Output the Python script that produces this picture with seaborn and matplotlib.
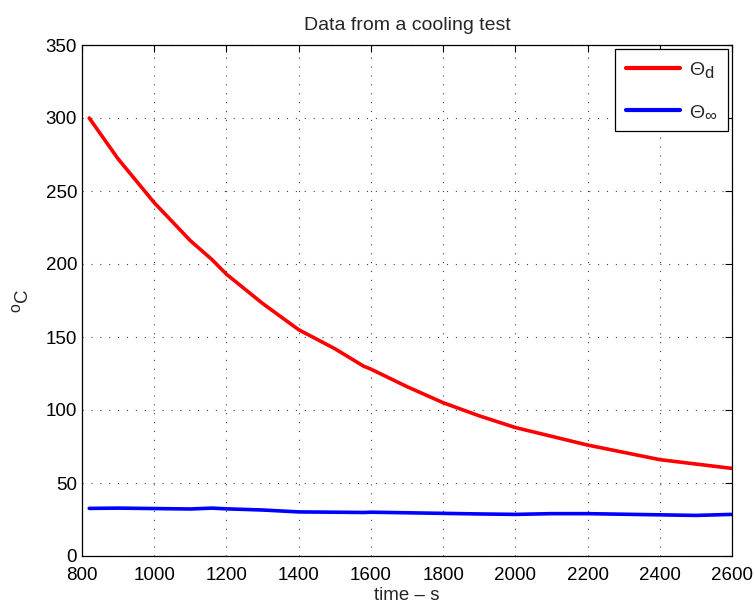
import numpy as np
import pandas as pd
import matplotlib
matplotlib.use("Agg")
import matplotlib.pyplot as plt
import matplotlib._mathtext as _mt
import seaborn as sns

time_s = [820, 900, 1000, 1100, 1160, 1200, 1300, 1400, 1500, 1580, 1600,
          1700, 1800, 1900, 2000, 2100, 2200, 2300, 2400, 2500, 2600]
theta_d = [300, 272, 242, 216, 203, 193, 173, 155, 142, 130, 128,
           116, 105, 96, 88, 82, 76, 71, 66, 63, 60]
theta_inf = [32.6, 32.8, 32.5, 32.2, 32.8, 32.3, 31.5, 30.2, 30.0, 29.8, 30.0,
             29.6, 29.2, 28.8, 28.5, 29.0, 29.0, 28.6, 28.2, 27.8, 28.5]
series_labels = [r"$\Theta_\mathrm{d}$", r"$\Theta_\infty$"]
series_colors = ["#ff0000", "#0000ff"]
x_ticks = [800, 1000, 1200, 1400, 1600, 1800, 2000, 2200, 2400, 2600]
y_ticks = [0, 50, 100, 150, 200, 250, 300, 350]

df = pd.DataFrame({
    "time": time_s * 2,
    "value": theta_d + theta_inf,
    "series": [series_labels[0]] * len(time_s) + [series_labels[1]] * len(time_s),
})

sns.set_style("white")
plt.rcParams['font.family'] = ['Liberation Sans', 'DejaVu Sans']
plt.rcParams['mathtext.fontset'] = 'custom'
plt.rcParams['mathtext.rm'] = 'Liberation Sans'
plt.rcParams['mathtext.it'] = 'Liberation Sans'
plt.rcParams['mathtext.bf'] = 'Liberation Sans:bold'
# MATLAB-like larger subscripts
_mt.SHRINK_FACTOR = 0.85

fig = plt.figure(figsize=(7.55, 6.07), dpi=100)
ax = fig.add_axes([82/755, 1 - 556/607, 650/755, 511/607])

sns.lineplot(data=df, x="time", y="value", hue="series",
             palette=dict(zip(series_labels, series_colors)),
             linewidth=2.6, ax=ax, sort=False)

ax.set_xlim(800, 2600)
ax.set_ylim(0, 350)
ax.set_xticks(x_ticks)
ax.set_yticks(y_ticks)
ax.tick_params(direction="in", length=5, width=0.8, top=True, right=True,
               labelsize=13.5, colors="black")
ax.tick_params(axis="x", pad=8)
ax.tick_params(axis="y", pad=3.5)
ax.grid(True, linestyle=(0, (1, 7)), color="#444444", linewidth=0.8)
for sp in ax.spines.values():
    sp.set_visible(True)
    sp.set_color("black")
    sp.set_linewidth(0.9)

ax.set_title("Data from a cooling test", fontsize=14, pad=11)
ax.set_xlabel("time \u2013 s", fontsize=13.5, labelpad=2)
ax.set_ylabel(r"$^\mathrm{o}$C", fontsize=13.5, labelpad=9.5)

leg = ax.legend(loc="upper right", fontsize=14, frameon=True, fancybox=False,
                edgecolor="black", framealpha=1, handlelength=2.8,
                handletextpad=0.45, borderaxespad=0.2, labelspacing=1.2,
                borderpad=0.55)
leg.get_frame().set_linewidth(0.9)
for line in leg.get_lines():
    line.set_linewidth(3.0)

fig.savefig("out.png", dpi=100)
